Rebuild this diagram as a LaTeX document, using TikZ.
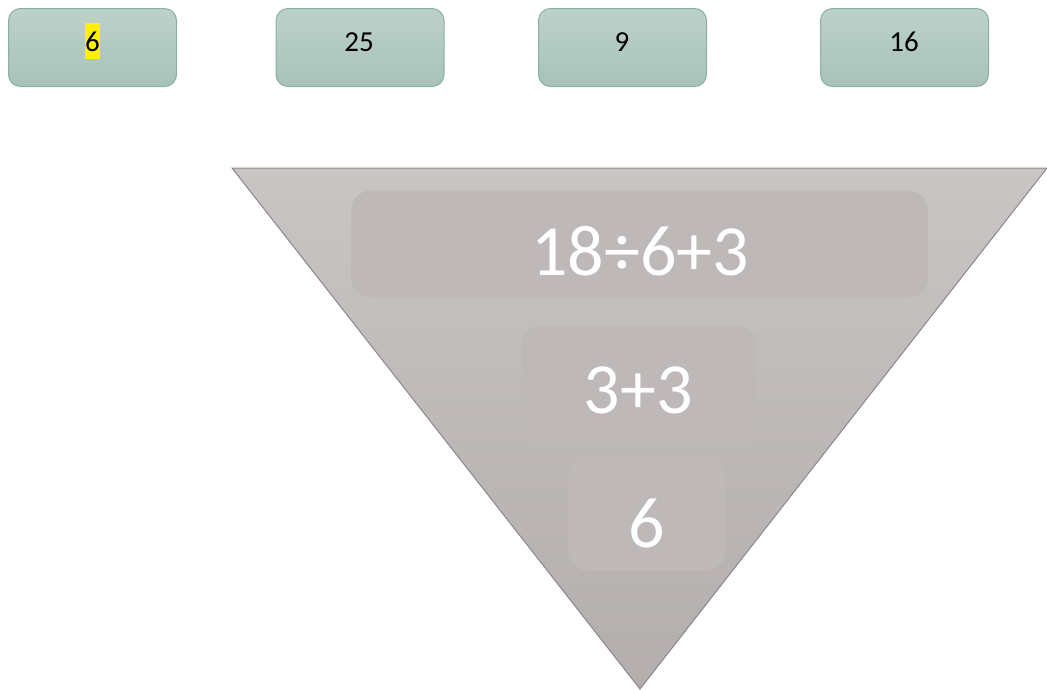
\documentclass[tikz,border=0pt]{standalone}
\usepackage{fontspec}
\setmainfont{Carlito}
\definecolor{boxtop}{HTML}{BDD1CB}
\definecolor{boxbot}{HTML}{A7C2BA}
\definecolor{boxedge}{HTML}{8BAFA6}
\definecolor{tritop}{HTML}{C9C5C4}
\definecolor{tribot}{HTML}{B3ADAD}
\definecolor{triedge}{HTML}{8E8787}
\definecolor{innerfill}{HTML}{BEB8B8}
\begin{document}
\begin{tikzpicture}[x=1pt,y=-1pt,
  topbox/.style={draw=boxedge, line width=1pt, rounded corners=12pt,
    top color=boxtop, bottom color=boxbot, minimum width=168pt, minimum height=78pt, inner sep=0pt},
  toptext/.style={font=\fontsize{29}{34}\selectfont, text=black, anchor=base, inner sep=0pt},
  innerbox/.style={fill=innerfill, rounded corners=20pt, inner sep=0pt},
  bigtext/.style={font=\fontsize{72}{80}\selectfont, text=white, anchor=base, inner sep=0pt}
]
\useasboundingbox (0,0) rectangle (1047,689);
% top boxes
\node[topbox] (b1) at (92.5,47.5) {};
\node[topbox] (b2) at (360,47.5) {};
\node[topbox] (b3) at (622.5,47.5) {};
\node[topbox] (b4) at (904.5,47.5) {};
\node[toptext, fill=yellow, text height=28.7pt, text depth=7.3pt] (t1) at (92.5,51.7) {6};
\node[toptext] (t2) at (359,51.7) {25};
\node[toptext] (t3) at (622,51.7) {9};
\node[toptext] (t4) at (904,51.7) {16};
% triangle
\draw[draw=triedge, line width=1pt, top color=tritop, bottom color=tribot]
  (232,168) -- (1047,168) -- (640,689) -- cycle;
% inner boxes
\node[innerbox, minimum width=577pt, minimum height=107pt] (i1) at (639.5,244) {};
\node[innerbox, minimum width=235pt, minimum height=121pt] (i2) at (639.2,385.8) {};
\node[innerbox, minimum width=158pt, minimum height=112pt] (i3) at (646.7,514.3) {};
\node[bigtext] (n1) at (640,275.7) {18÷6+3};
\node[bigtext] (n2) at (638.3,413.3) {3+3};
\node[bigtext] (n3) at (646.5,547) {6};
\end{tikzpicture}
\end{document}
